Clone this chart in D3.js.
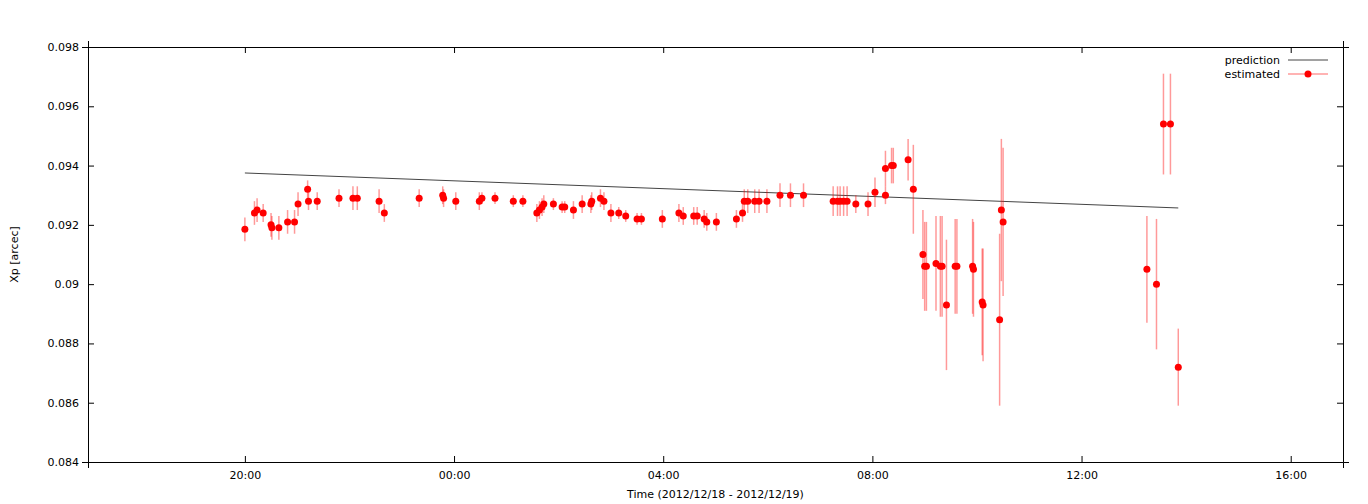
<!DOCTYPE html>
<html><head><meta charset="utf-8">
<script src="https://cdn.jsdelivr.net/npm/d3@7"></script>
<style>body{margin:0;background:#fff}text{font-family:"DejaVu Sans",sans-serif;font-size:11px}</style>
</head><body><div id="chart"></div>
<script>
// estimated points: time (day 18 until midnight, then 19), Xp, error
const times = ["18 20:00","18 20:11","18 20:14","18 20:21","18 20:30","18 20:31","18 20:39","18 20:49","18 20:57","18 21:01","18 21:12","18 21:13","18 21:23","18 21:48","18 22:04","18 22:09","18 22:34","18 22:40","18 23:20","18 23:47","18 23:48",
  "19 00:02","19 00:29","19 00:32","19 00:47","19 01:08","19 01:19","19 01:35","19 01:38","19 01:41","19 01:43","19 01:54","19 02:04","19 02:07","19 02:17","19 02:27","19 02:37","19 02:38","19 02:48","19 02:52","19 03:00","19 03:09","19 03:17","19 03:30","19 03:35","19 03:59","19 04:18","19 04:23","19 04:35","19 04:39","19 04:47","19 04:50","19 05:01","19 05:24","19 05:31","19 05:33","19 05:37","19 05:45","19 05:50","19 05:59","19 06:14","19 06:26","19 06:41","19 07:15","19 07:20","19 07:23","19 07:27","19 07:31","19 07:41","19 07:55","19 08:03","19 08:15","19 08:15","19 08:22","19 08:24","19 08:41","19 08:47","19 08:58","19 09:00","19 09:02","19 09:13","19 09:18","19 09:20","19 09:25","19 09:35","19 09:37","19 09:55","19 09:56","19 10:06","19 10:07","19 10:26","19 10:28","19 10:30","19 13:15","19 13:26","19 13:34","19 13:42","19 13:51"];
const xp = [0.09185,0.0924,0.0925,0.0924,0.0920,0.0919,0.0919,0.0921,0.0921,0.0927,0.0932,0.0928,0.0928,0.0929,0.0929,0.0929,0.0928,0.0924,0.0929,0.0930,0.0929,
  0.0928,0.0928,0.0929,0.0929,0.0928,0.0928,0.0924,0.0925,0.0926,0.0927,0.0927,0.0926,0.0926,0.0925,0.0927,0.0927,0.0928,0.0929,0.0928,0.0924,0.0924,0.0923,0.0922,0.0922,0.0922,0.0924,0.0923,0.0923,0.0923,0.0922,0.0921,0.0921,0.0922,0.0924,0.0928,0.0928,0.0928,0.0928,0.0928,0.0930,0.0930,0.0930,0.0928,0.0928,0.0928,0.0928,0.0928,0.0927,0.0927,0.0931,0.0930,0.0939,0.0940,0.0940,0.0942,0.0932,0.0910,0.0906,0.0906,0.0907,0.0906,0.0906,0.0893,0.0906,0.0906,0.0906,0.0905,0.0894,0.0893,0.0888,0.0925,0.0921,0.0905,0.0900,0.0954,0.0954,0.0872];
const err = [0.0004,0.0004,0.0004,0.0003,0.0004,0.0004,0.0004,0.0004,0.0004,0.0004,0.0003,0.0003,0.0003,0.0003,0.0004,0.0004,0.0004,0.0003,0.0003,0.0003,0.0003,
  0.0003,0.0003,0.0002,0.0002,0.0002,0.0002,0.0003,0.0003,0.0003,0.0003,0.0002,0.0002,0.0002,0.0003,0.0003,0.0003,0.0003,0.0003,0.0003,0.0003,0.0002,0.0002,0.0002,0.0002,0.0003,0.0003,0.0003,0.0003,0.0003,0.0003,0.0003,0.0003,0.0003,0.0003,0.0004,0.0004,0.0004,0.0004,0.0004,0.0004,0.0004,0.0004,0.0005,0.0005,0.0005,0.0005,0.0005,0.0003,0.0004,0.0005,0.0003,0.0006,0.0006,0.0006,0.0007,0.0015,0.0015,0.0015,0.0015,0.0016,0.0017,0.0017,0.0022,0.0016,0.0016,0.0016,0.0016,0.0018,0.0019,0.0029,0.0024,0.0025,0.0018,0.0022,0.0017,0.0017,0.0013];
// prediction line end points
const predTimes = ["18 20:00","19 13:51"];
const predVals = [0.09375,0.09257];
const yTicks = [0.084,0.086,0.088,0.09,0.092,0.094,0.096,0.098];
const xTicks = ["18 20:00","19 00:00","19 04:00","19 08:00","19 12:00","19 16:00"];

const parse = s => { const [d, hm] = s.split(" "); const [h, m] = hm.split(":"); return new Date(2012, 11, +d, +h, +m); };

const W = 1368, H = 504;
const margin = { top: 47, right: 25, bottom: 42, left: 88 };
const svg = d3.select('#chart').append('svg').attr('width', W).attr('height', H);
const iw = W - margin.left - margin.right, ih = H - margin.top - margin.bottom;
const g = svg.append('g').attr('transform', `translate(${margin.left},${margin.top})`);

const x = d3.scaleTime().domain([new Date(2012, 11, 18, 17, 0), new Date(2012, 11, 19, 17, 0)]).range([0, iw]);
const y = d3.scaleLinear().domain([0.084, 0.098]).range([ih, 0]);

const fmtY = d => String(+d.toFixed(3));
const xtv = xTicks.map(parse);
const fmtX = d3.timeFormat('%H:%M');

g.append('g').attr('transform', `translate(0,${ih})`).call(d3.axisBottom(x).tickValues(xtv).tickFormat(fmtX).tickSizeInner(-6).tickPadding(9));
g.append('g').call(d3.axisTop(x).tickValues(xtv).tickFormat('').tickSizeInner(-6));
g.append('g').call(d3.axisLeft(y).tickValues(yTicks).tickFormat(fmtY).tickSizeInner(-6).tickPadding(9));
g.append('g').attr('transform', `translate(${iw},0)`).call(d3.axisRight(y).tickValues(yTicks).tickFormat('').tickSizeInner(-6));
g.selectAll('.domain').attr('stroke', '#000');
g.selectAll('.tick line').attr('stroke', '#000');
g.selectAll('.tick text').attr('fill', '#000').style('font-size', '11px');

// prediction
const line = d3.line().x((_, i) => x(parse(predTimes[i]))).y(d => y(d));
g.append('path').datum(predVals).attr('fill', 'none').attr('stroke', '#444').attr('stroke-width', 1).attr('d', line);

// error bars
g.selectAll('.eb').data(xp).enter().append('line')
  .attr('x1', (_, i) => x(parse(times[i]))).attr('x2', (_, i) => x(parse(times[i])))
  .attr('y1', (d, i) => y(d - err[i])).attr('y2', (d, i) => y(d + err[i]))
  .attr('stroke', 'rgba(255,0,0,0.4)').attr('stroke-width', 1.5);
g.selectAll('.pt').data(xp).enter().append('circle')
  .attr('cx', (_, i) => x(parse(times[i]))).attr('cy', d => y(d)).attr('r', 3.5).attr('fill', '#f00');

// legend
const lg = g.append('g').attr('transform', `translate(${iw - 55},0)`);
lg.append('text').attr('x', -8).attr('y', 17).attr('text-anchor', 'end').text('prediction');
lg.append('line').attr('x1', 0).attr('x2', 40).attr('y1', 13).attr('y2', 13).attr('stroke', '#444');
lg.append('text').attr('x', -8).attr('y', 31).attr('text-anchor', 'end').text('estimated');
lg.append('line').attr('x1', 0).attr('x2', 40).attr('y1', 27).attr('y2', 27).attr('stroke', 'rgba(255,0,0,0.4)').attr('stroke-width', 1.5);
lg.append('circle').attr('cx', 20).attr('cy', 27).attr('r', 3.5).attr('fill', '#f00');

svg.append('text').attr('x', margin.left + iw / 2).attr('y', H - 6).attr('text-anchor', 'middle').text('Time (2012/12/18 - 2012/12/19)');
svg.append('text').attr('transform', `translate(18,${margin.top + ih / 2}) rotate(-90)`).attr('text-anchor', 'middle').text('Xp [arcec]');
</script></body></html>
